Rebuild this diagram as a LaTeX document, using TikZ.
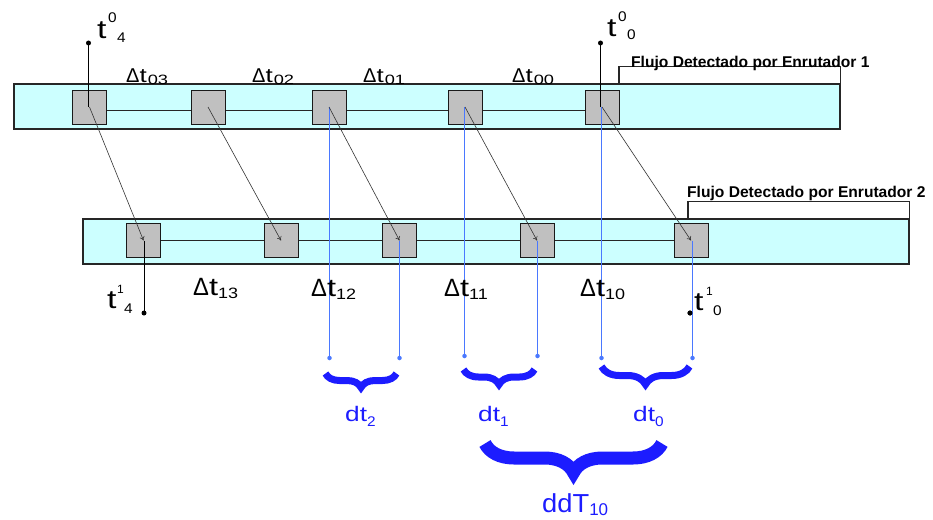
\documentclass[tikz,border=0pt]{standalone}
\usepackage{fontspec}
\setmainfont{Liberation Sans}
\usetikzlibrary{arrows.meta,decorations.pathreplacing}
\definecolor{bandc}{HTML}{CCFFFF}
\definecolor{boxc}{HTML}{C0C0C0}
\definecolor{lblue}{HTML}{4A78FF}
\definecolor{dblue}{HTML}{1C1CFF}
\newcommand\hs[2]{\scalebox{#1}[1]{#2}}
\newcommand\Dtop[1]{{\fontsize{20}{20}\selectfont Δ\hs{1.3}{t}}\kern1pt{\fontsize{13.5}{13.5}\selectfont\hs{1.35}{\raisebox{-2pt}{#1}}}}
\newcommand\Dbot[1]{{\fontsize{25}{25}\selectfont\hs{0.95}{Δ}\hs{1.3}{t}}{\fontsize{15}{15}\selectfont\hs{1.2}{\raisebox{-3pt}{#1}}}}
\newcommand\dtx[1]{\hs{1.25}{dt}\raisebox{-5pt}{\fontsize{14}{14}\selectfont\hs{1.1}{#1}}}
\begin{document}
\begin{tikzpicture}[x=1pt,y=-1pt,
 band/.style={draw=black!85,fill=bandc,line width=1.1pt,inner sep=0pt,minimum width=826pt,minimum height=45pt},
 pkt/.style={draw=black!90,fill=boxc,line width=1pt,minimum size=34pt,inner sep=0pt},
 conn/.style={draw=black!85,line width=1pt},
 arr/.style={draw=black!80,line width=0.6pt,-{To[length=4pt,width=5pt]}},
 bl/.style={draw=lblue,line width=1pt},
 bdot/.style={circle,fill=lblue,inner sep=0pt,minimum size=4.5pt},
 kdot/.style={circle,fill=black,inner sep=0pt,minimum size=5pt},
 vline/.style={draw=black,line width=1pt},
 brk/.style={draw=black!85,line width=1.1pt},
 brc/.style={draw=dblue,decorate},
 lab/.style={inner sep=0pt,anchor=base west},
 tbig/.style={inner sep=0pt,anchor=base west,font=\fontsize{26}{26}\selectfont},
 tsml/.style={inner sep=0pt,anchor=base west,font=\fontsize{14}{14}\selectfont},
 flab/.style={inner sep=0pt,anchor=base west,font=\fontsize{15.6}{16}\selectfont\bfseries},
 blab/.style={inner sep=0pt,anchor=base west,text=dblue,font=\fontsize{21}{21}\selectfont},
 ]
\useasboundingbox (0,0) rectangle (933,519);
% bands
\node[band] (band1) at (427,106.5) {};
\node[band] (band2) at (496,241.5) {};
% top boxes
\node[pkt] (t1) at (89.5,107) {};
\node[pkt] (t2) at (208,107) {};
\node[pkt] (t3) at (329,107) {};
\node[pkt] (t4) at (465,107) {};
\node[pkt] (t5) at (602,107) {};
% bottom boxes
\node[pkt] (b1) at (143.5,240.5) {};
\node[pkt] (b2) at (281,240.5) {};
\node[pkt] (b3) at (399.5,240.5) {};
\node[pkt] (b4) at (537,240.5) {};
\node[pkt] (b5) at (691,240.5) {};
% chain lines
\foreach \a/\b in {t1/t2,t2/t3,t3/t4,t4/t5}
  \draw[conn] ([yshift=-3.5pt]\a.east) -- ([yshift=-3.5pt]\b.west);
\foreach \a/\b in {b1/b2,b2/b3,b3/b4,b4/b5}
  \draw[conn] (\a.east) -- (\b.west);
% brackets
\coordinate (k1) at (619,66.5);
\coordinate (k2) at (688,201.5);
\draw[brk] (k1 |- band1.north) -- (k1) -| (band1.north east);
\draw[brk] (k2 |- band2.north) -- (k2) -| (band2.north east);
\node[flab] (f1) at (631,67) {Flujo Detectado por Enrutador 1};
\node[flab] (f2) at (687,197) {Flujo Detectado por Enrutador 2};
% black time markers
\node[kdot] (p04) at (88.5,43) {};
\node[kdot] (p00) at (600.5,43) {};
\node[kdot] (p14) at (144,313) {};
\node[kdot] (p10) at (690,313) {};
\draw[vline] (p04.center) -- (p04 |- t1.center);
\draw[vline] (p00.center) -- (p00 |- t5.center);
\draw[vline] (p14 |- b1.center) -- (p14.center);
% blue measurement lines
\node[bdot] (d3a) at (329.5,358) {};
\node[bdot] (d3b) at (399.5,358) {};
\node[bdot] (d4a) at (464.5,356) {};
\node[bdot] (d4b) at (537.5,356) {};
\node[bdot] (d5a) at (601.5,358) {};
\node[bdot] (d5b) at (692.5,358) {};
\draw[bl] (d3a |- t3.center) -- (d3a.center);
\draw[bl] (d3b |- b3.center) -- (d3b.center);
\draw[bl] (d4a |- t4.center) -- (d4a.center);
\draw[bl] (d4b |- b4.center) -- (d4b.center);
\draw[bl] (d5a |- t5.center) -- (d5a.center);
\draw[bl] (d5b |- b5.center) -- (d5b.center);
\node[kdot] at (p10) {};
% arrows
\draw[arr] (t1.center) -- (b1.center);
\draw[arr] (t2.center) -- (b2.center);
\draw[arr] (t3.center) -- (b3.center);
\draw[arr] (t4.center) -- (b4.center);
\draw[arr] (t5.center) -- (b5.center);
% time labels
\node[tbig] (l04t) at (97,39) {\hs{1.3}{t}};
\node[tsml] (l04a) at (108,23) {\hs{1.1}{0}};
\node[tsml] (l04b) at (117,43) {\hs{1.1}{4}};
\node[tbig] (l00t) at (607,37) {\hs{1.3}{t}};
\node[tsml] (l00a) at (618,22) {\hs{1.1}{0}};
\node[tsml] (l00b) at (627,40) {\hs{1.1}{0}};
\node[tbig] (l14t) at (107,308) {\hs{1.3}{t}};
\node[tsml,font=\fontsize{12}{12}\selectfont] (l14a) at (117,293) {1};
\node[tsml] (l14b) at (124,313) {\hs{1.1}{4}};
\node[tbig] (l10t) at (694,310) {\hs{1.3}{t}};
\node[tsml,font=\fontsize{12}{12}\selectfont] (l10a) at (706,295) {1};
\node[tsml] (l10b) at (713,315) {\hs{1.1}{0}};
% interval labels
\node[lab] (a03) at (126,82) {\Dtop{03}};
\node[lab] (a02) at (252,82) {\Dtop{02}};
\node[lab] (a01) at (363,82) {\Dtop{01}};
\node[lab] (a00) at (512,82) {\Dtop{00}};
\node[lab] (a13) at (193,295) {\Dbot{13}};
\node[lab] (a12) at (311,296) {\Dbot{12}};
\node[lab] (a11) at (444,296) {\Dbot{11}};
\node[lab] (a10) at (580,296) {\Dbot{10}};
% braces
\draw[brc,line width=7pt,decoration={brace,mirror,amplitude=14pt}] (325.5,373.5) -- (396.5,373.5);
\draw[brc,line width=7pt,decoration={brace,mirror,amplitude=15pt}] (463.5,369.5) -- (534.5,369.5);
\draw[brc,line width=7pt,decoration={brace,mirror,amplitude=18pt}] (601.5,366.5) -- (689.5,366.5);
\draw[brc,line width=13pt,decoration={brace,mirror,amplitude=29pt}] (485,443.5) -- (662,443.5);
\node[blab] (dt2) at (345,421) {\dtx{2}};
\node[blab] (dt1) at (478,421) {\dtx{1}};
\node[blab] (dt0) at (633,421) {\dtx{0}};
\node[blab,font=\fontsize{26}{26}\selectfont] (ddt) at (542,512) {\hs{1.05}{ddT}\raisebox{-3pt}{\fontsize{17}{17}\selectfont 10}};
\end{tikzpicture}
\end{document}
